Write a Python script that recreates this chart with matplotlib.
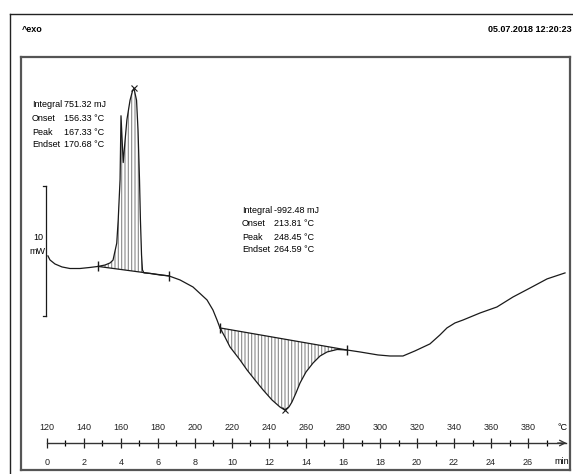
import numpy as np
import matplotlib
matplotlib.use("Agg")
from matplotlib import pyplot as plt
from matplotlib.lines import Line2D
from matplotlib.ticker import FixedLocator

plt.rcParams['font.family'] = ['Liberation Sans', 'DejaVu Sans']
plt.rcParams['hatch.linewidth'] = 0.8
plt.rcParams['hatch.color'] = '#8a8a8a'

# DSC curve: temperature (degC) vs heat flow (mW), exo up
temp = np.array([120.5, 121.6, 124.3, 128.1, 132.4, 137.8, 143.2, 147.6, 151.4, 154.1,
                 155.7, 157.7, 158.5, 159.5, 160.0, 161.2, 162.2, 163.2, 164.9, 166.2,
                 167.0, 168.4, 169.2, 170.0, 170.5, 171.1, 171.6, 172.4, 175.7, 181.1,
                 185.9, 191.9, 198.9, 206.5, 209.7, 211.9, 213.5, 216.2, 218.9, 224.3,
                 228.1, 232.4, 236.8, 241.6, 245.9, 248.45, 250.8, 252.4, 254.6, 256.8,
                 260.0, 263.8, 267.6, 271.4, 276.8, 282.2, 289.2, 298.9, 305.4, 312.4,
                 318.9, 327.0, 332.4, 336.2, 340.5, 344.9, 354.1, 363.2, 371.9, 381.1,
                 390.3, 400.0])
heat = np.array([4.62, 4.31, 4.00, 3.77, 3.65, 3.65, 3.73, 3.81, 3.92, 4.08,
                 4.30, 5.60, 7.40, 10.5, 15.4, 11.8, 13.5, 15.1, 16.6, 17.3,
                 17.5, 16.6, 14.3, 10.5, 7.4, 4.7, 3.54, 3.31, 3.27, 3.15,
                 3.08, 2.77, 2.23, 1.23, 0.46, -0.31, -0.92, -1.62, -2.38, -3.38,
                 -4.15, -4.92, -5.69, -6.46, -7.00, -7.23, -7.00, -6.62, -5.92, -5.15,
                 -4.31, -3.62, -3.08, -2.77, -2.58, -2.62, -2.77, -3.00, -3.08, -3.08,
                 -2.69, -2.15, -1.46, -0.92, -0.54, -0.31, 0.23, 0.69, 1.46, 2.15,
                 2.85, 3.31])

# integration limits of the two peaks (degC)
peak1_lims = [147.6, 185.9]
peak2_lims = [213.5, 282.2]
peak_tops = [167.0, 248.45]

peak1_text = ["Integral", "Onset", "Peak", "Endset"]
peak1_vals = ["751.32 mJ", "156.33 °C", "167.33 °C", "170.68 °C"]
peak2_vals = ["-992.48 mJ", "213.81 °C", "248.45 °C", "264.59 °C"]

ruler_temps = [120, 140, 160, 180, 200, 220, 240, 260, 280, 300, 320, 340, 360, 380]
ruler_min = [0, 2, 4, 6, 8, 10, 12, 14, 16, 18, 20, 22, 24, 26]
scale_mw = [0, 10]

W, H = 573, 474
fs = 6.5
fig = plt.figure(figsize=(W / 100, H / 100), dpi=100)

# main frame (pixel box 21..570 x 57..470)
ax = fig.add_axes([21 / W, (H - 470) / H, 549 / W, 413 / H])
ax.set_xlim(105.95, 402.7)
ax.set_ylim(-11.85, 19.92)
ax.set_xticks([])
ax.set_yticks([])
for s in ax.spines.values():
    s.set_color('#555555')
    s.set_linewidth(1.6)

col = '#1a1a1a'

# hatched peak areas
for lims in (peak1_lims, peak2_lims):
    lim_heat = np.interp(lims, temp, heat)
    base = np.interp(temp, lims, lim_heat)
    m = (temp >= lims[0]) & (temp <= lims[1])
    ax.fill_between(temp, heat, base, where=m, facecolor='none',
                    edgecolor='#8a8a8a', hatch='|||||', linewidth=0)
    ax.plot(lims, lim_heat, color=col, lw=0.9)
    ax.plot(lims, lim_heat, ls='none', marker='|', ms=7, mew=1.0, color=col)

ax.plot(temp, heat, color=col, lw=0.9)
ax.plot(peak_tops, np.interp(peak_tops, temp, heat), ls='none', marker='x',
        ms=4, mew=0.8, color=col)

# 10 mW scale bar
ax.plot([119.5, 119.5], scale_mw, color=col, lw=0.9)
ax.plot([118.0, 119.5], [scale_mw[1], scale_mw[1]], color=col, lw=0.9)
ax.plot([118.0, 119.5], [scale_mw[0], scale_mw[0]], color=col, lw=0.9)
ax.text(0.031, 0.562, "10", transform=ax.transAxes, ha='center', va='center', fontsize=fs)
ax.text(0.029, 0.528, "mW", transform=ax.transAxes, ha='center', va='center', fontsize=fs)

# result boxes
rows1 = [0.884, 0.850, 0.818, 0.787]
rows2 = [0.6295, 0.598, 0.564, 0.5327]
for i, lab in enumerate(peak1_text):
    ax.text(0.020, rows1[i], lab, transform=ax.transAxes, va='center', fontsize=fs)
    ax.text(0.0775, rows1[i], peak1_vals[i], transform=ax.transAxes, va='center', fontsize=fs)
    ax.text(0.4026, rows2[i], lab, transform=ax.transAxes, va='center', fontsize=fs)
    ax.text(0.460, rows2[i], peak2_vals[i], transform=ax.transAxes, va='center', fontsize=fs)

# temperature / time ruler
axr = fig.add_axes([21 / W, (H - 443) / H, 549 / W, 0.0005])
axr.set_xlim(ax.get_xlim())
axr.set_ylim(0, 1)
axr.patch.set_visible(False)
for k in ('top', 'left', 'right'):
    axr.spines[k].set_visible(False)
axr.spines['bottom'].set_bounds(120, 400.5)
axr.spines['bottom'].set_color('#333333')
axr.spines['bottom'].set_linewidth(1.0)
axr.set_yticks([])
axr.set_xticks(ruler_temps)
axr.set_xticklabels([str(m) for m in ruler_min])
axr.xaxis.set_minor_locator(FixedLocator([t + 10 for t in ruler_temps]))
axr.tick_params(which='major', direction='inout', length=7, width=0.9, pad=7,
                labelsize=fs, colors='#222222')
axr.tick_params(which='minor', direction='inout', length=4, width=0.9)
axr.annotate('', xy=(400.8, 0), xytext=(396, 0),
             arrowprops=dict(arrowstyle='->', lw=0.9, color='#333333',
                             shrinkA=0, shrinkB=0))

axt = axr.twiny()
axt.set_xlim(ax.get_xlim())
axt.patch.set_visible(False)
for s in axt.spines.values():
    s.set_visible(False)
axt.set_xticks(ruler_temps)
axt.set_xticklabels([str(t) for t in ruler_temps])
axt.tick_params(length=0, pad=8, labelsize=fs, colors='#222222')

fig.text(563 / W, (H - 428) / H, "°C", ha='center', va='center', fontsize=fs)
fig.text(562 / W, (H - 462) / H, "min", ha='center', va='center', fontsize=fs)

# header and outer frame
fig.text(22 / W, (H - 29) / H, "^exo", ha='left', va='center', fontsize=fs,
         fontweight='bold')
fig.text(572 / W, (H - 29) / H, "05.07.2018 12:20:23", ha='right', va='center',
         fontsize=6.5, fontweight='bold')
fig.add_artist(Line2D([10 / W, 10 / W], [0, (H - 14) / H], color='#222222', lw=1.0))
fig.add_artist(Line2D([10 / W, 1], [(H - 14) / H, (H - 14) / H], color='#222222', lw=1.0))

fig.savefig("out.png", dpi=100)
